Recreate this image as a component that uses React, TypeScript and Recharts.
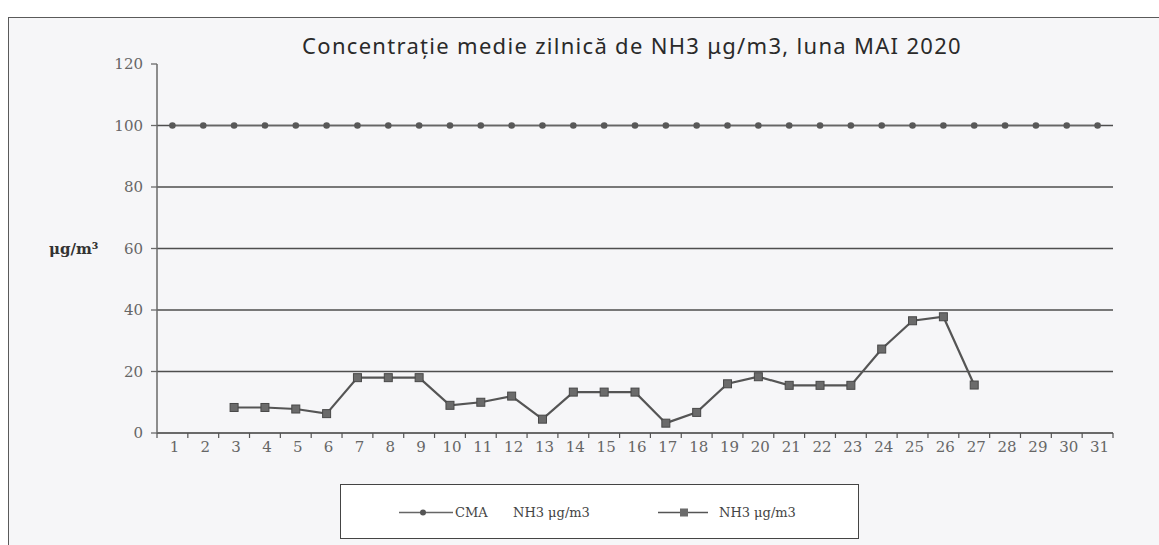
import { LineChart, Line, XAxis, YAxis, ReferenceLine } from 'recharts';

const days = [
  '1', '2', '3', '4', '5', '6', '7', '8', '9', '10', '11', '12', '13', '14', '15', '16',
  '17', '18', '19', '20', '21', '22', '23', '24', '25', '26', '27', '28', '29', '30', '31',
];

// CMA NH3 (limit value) - constant 100
const cmaNh3 = [
  100, 100, 100, 100, 100, 100, 100, 100, 100, 100, 100, 100, 100, 100, 100, 100,
  100, 100, 100, 100, 100, 100, 100, 100, 100, 100, 100, 100, 100, 100, 100,
];

// daily NH3 concentration, no data on 1-2 and 28-31
const nh3 = [
  null, null, 8.3, 8.3, 7.8, 6.3, 18, 18, 18, 9, 10, 12, 4.5, 13.3, 13.3, 13.3,
  3.2, 6.7, 16, 18.3, 15.5, 15.5, 15.5, 27.3, 36.5, 37.8, 15.6, null, null, null, null,
];

const yTicks = [0, 20, 40, 60, 80, 100, 120];
const gridValues = [20, 40, 60, 80, 100];

const data = days.map((day, i) => ({ day, cma: cmaNh3[i], nh3: nh3[i] }));

const TICK_FONT = '"DejaVu Serif", serif';

function DayTick(props: any) {
  const { x, y, payload, index, visibleTicksCount, width } = props;
  const band = width && visibleTicksCount ? width / visibleTicksCount : 30.8;
  return (
    <g>
      <line x1={x - band / 2} x2={x - band / 2} y1={y} y2={y + 5} stroke="#555" strokeWidth={1.2} />
      {index === visibleTicksCount - 1 && (
        <line x1={x + band / 2} x2={x + band / 2} y1={y} y2={y + 5} stroke="#555" strokeWidth={1.2} />
      )}
      <text
        x={x + 2}
        y={y + 14}
        textAnchor="middle"
        dominantBaseline="central"
        fontFamily={TICK_FONT}
        fontSize={15}
        fill="#666"
      >
        {payload.value}
      </text>
    </g>
  );
}

function SquareDot(props: any) {
  const { cx, cy, index } = props;
  if (cx == null || cy == null) return <g key={`sq-${index}`} />;
  return (
    <rect key={`sq-${index}`} x={cx - 4} y={cy - 4} width={8} height={8} fill="#6b6b6b" stroke="#484848" strokeWidth={1} />
  );
}

function RoundDot(props: any) {
  const { cx, cy, index } = props;
  if (cx == null || cy == null) return <g key={`rd-${index}`} />;
  return <circle key={`rd-${index}`} cx={cx} cy={cy} r={3.3} fill="#585858" />;
}

export default function App() {
  return (
    <div
      style={{
        position: 'fixed',
        left: 8,
        top: 17,
        width: 1150,
        height: 528,
        borderLeft: '1px solid #5a5a5a',
        borderTop: '1px solid #5a5a5a',
        borderRight: '1px solid #5a5a5a',
        background: '#f6f6f8',
      }}
    >
      <div
        style={{
          position: 'absolute',
          left: 623,
          top: 12,
          transform: 'translateX(-50%)',
          whiteSpace: 'nowrap',
          fontFamily: '"Noto Sans", sans-serif',
          fontSize: 22,
          letterSpacing: 1.3,
          color: '#2a2a2a',
        }}
      >
        Concentrație medie zilnică de NH3 μg/m3, luna MAI 2020
      </div>

      <LineChart width={1148} height={527} data={data} margin={{ top: 46, right: 44, bottom: 82, left: 0 }}>
        <XAxis
          dataKey="day"
          scale="band"
          interval={0}
          height={30}
          tickSize={0}
          tickMargin={0}
          tickLine={false}
          tick={<DayTick />}
          axisLine={{ stroke: '#6a6a6a', strokeWidth: 2 }}
        />
        <YAxis
          domain={[0, 120]}
          ticks={yTicks}
          interval={0}
          width={148}
          tickSize={6}
          tickMargin={8}
          axisLine={{ stroke: '#6a6a6a', strokeWidth: 1.5 }}
          tickLine={{ stroke: '#6a6a6a', strokeWidth: 1.3 }}
          tick={{ fontFamily: TICK_FONT, fontSize: 15, fill: '#666' }}
          label={{
            value: 'μg/m³',
            position: 'insideLeft',
            offset: 40,
            style: { fontFamily: TICK_FONT, fontSize: 15, fontWeight: 'bold', fill: '#333', textAnchor: 'start' },
          }}
        />
        {gridValues.map((v) => (
          <ReferenceLine key={v} y={v} stroke="#4e4e4e" strokeWidth={1.3} />
        ))}
        <Line
          type="linear"
          dataKey="cma"
          name="CMA NH3 μg/m3"
          stroke="#666"
          strokeWidth={1.5}
          dot={<RoundDot />}
          isAnimationActive={false}
        />
        <Line
          type="linear"
          dataKey="nh3"
          name="NH3 μg/m3"
          stroke="#555"
          strokeWidth={2.2}
          dot={<SquareDot />}
          connectNulls={false}
          isAnimationActive={false}
        />
      </LineChart>

      <div
        style={{
          position: 'absolute',
          left: 331,
          top: 466,
          width: 517,
          height: 53,
          border: '1px solid #444',
          background: '#fff',
        }}
      >
        <svg width={517} height={53}>
          <line x1={58} x2={112} y1={27.5} y2={27.5} stroke="#666" strokeWidth={1.5} />
          <circle cx={82} cy={27.5} r={3} fill="#555" />
          <text x={114} y={27.5} dominantBaseline="central" fontFamily={TICK_FONT} fontSize={13} fill="#444">
            CMA
          </text>
          <text x={172} y={27.5} dominantBaseline="central" fontFamily={TICK_FONT} fontSize={13} fill="#444">
            NH3 μg/m3
          </text>
          <line x1={317} x2={367} y1={27.5} y2={27.5} stroke="#555" strokeWidth={1.5} />
          <rect x={339} y={23.5} width={8} height={8} fill="#6b6b6b" />
          <text x={378} y={27.5} dominantBaseline="central" fontFamily={TICK_FONT} fontSize={13} fill="#444">
            NH3 μg/m3
          </text>
        </svg>
      </div>
    </div>
  );
}
